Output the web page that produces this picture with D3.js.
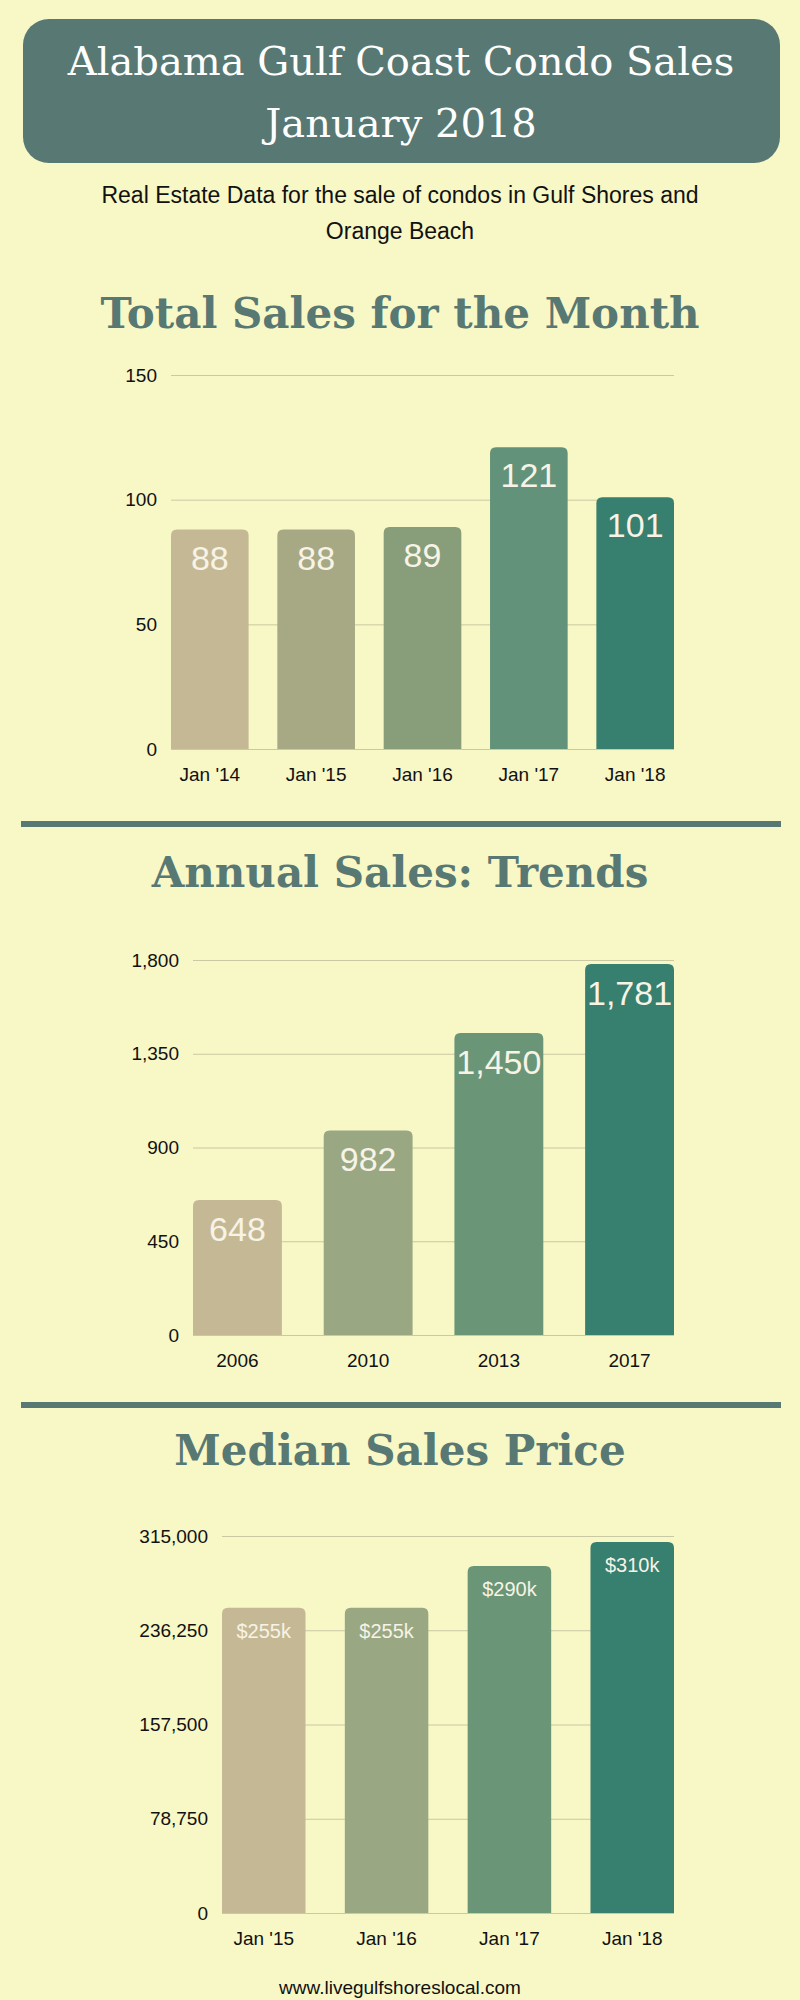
<!DOCTYPE html><html><head><meta charset="utf-8">
<script src="https://cdn.jsdelivr.net/npm/d3@7"></script>
<style>body{margin:0;background:#f8f7c6}svg{display:block}</style></head><body>
<svg id="c" width="800" height="2000"></svg>
<script>
const monthCats=["Jan '14","Jan '15","Jan '16","Jan '17","Jan '18"];
const monthVals=[88,88,89,121,101];
const monthTicks=[0,50,100,150];
const yearCats=["2006","2010","2013","2017"];
const yearVals=[648,982,1450,1781];
const yearTicks=[0,450,900,1350,1800];
const priceCats=["Jan '15","Jan '16","Jan '17","Jan '18"];
const priceVals=[255000,255000,290000,310000];
const priceLabels=["$255k","$255k","$290k","$310k"];
const priceTicks=[0,78750,157500,236250,315000];
const col5=["#c5b995","#a7a985","#889d79","#62937a","#377f6f"];
const col4=["#c5b995","#99a882","#6a9677","#377f6f"];

const svg=d3.select("#c");
const teal="#587873";
svg.append("rect").attr("width",800).attr("height",2000).attr("fill","#f8f7c6");
svg.append("rect").attr("x",23).attr("y",19).attr("width",757).attr("height",144).attr("rx",26).attr("fill",teal);
const serif="'DejaVu Serif', serif";
[["Alabama Gulf Coast Condo Sales",75],["January 2018",137]].forEach(([t,y])=>
 svg.append("text").attr("x",401).attr("y",y).attr("text-anchor","middle").attr("fill","#fff").attr("font-family",serif).attr("font-size",40).text(t));
[["Real Estate Data for the sale of condos in Gulf Shores and",203],["Orange Beach",239]].forEach(([t,y])=>
 svg.append("text").attr("x",400).attr("y",y).attr("text-anchor","middle").attr("fill","#111").attr("font-family","'Liberation Sans',Arial").attr("font-size",23).text(t));
[["Total Sales for the Month",328],["Annual Sales: Trends",887],["Median Sales Price",1465]].forEach(([t,y])=>
 svg.append("text").attr("x",400).attr("y",y).attr("text-anchor","middle").attr("fill",teal).attr("font-family",serif).attr("font-size",42).attr("font-weight","bold").text(t));
[824,1405].forEach(y=>svg.append("rect").attr("x",21).attr("y",y-3).attr("width",760).attr("height",6).attr("fill",teal));
svg.append("text").attr("x",400).attr("y",1994).attr("text-anchor","middle").attr("fill","#111").attr("font-family","'Liberation Sans',Arial").attr("font-size",19).text("www.livegulfshoreslocal.com");

function chart(o){
 const x=d3.scaleBand().domain(o.cats).range([o.x0,o.x1]).paddingInner(o.pad).paddingOuter(0);
 const y=d3.scaleLinear().domain([0,o.max]).range([o.yb,o.yt]);
 const g=svg.append("g");
 const ax=g.append("g").attr("transform",`translate(${o.x0},0)`).call(d3.axisLeft(y).tickValues(o.ticks).tickSize(-(o.x1-o.x0)).tickFormat(d3.format(",")));
 ax.select(".domain").remove();
 ax.selectAll("line").attr("stroke","#c9c9a3");
 ax.selectAll("text").attr("font-family","'Liberation Sans',Arial").attr("font-size",19).attr("fill","#111").attr("x",-14);
 const r=6;
 g.selectAll("path.b").data(o.vals).join("path").attr("fill",(d,i)=>o.cols[i]).attr("d",(d,i)=>{
  const x0=x(o.cats[i]),w=x.bandwidth(),yt=y(d),yb=y(0);
  return `M${x0},${yb}V${yt+r}Q${x0},${yt} ${x0+r},${yt}H${x0+w-r}Q${x0+w},${yt} ${x0+w},${yt+r}V${yb}Z`;});
 g.selectAll("text.v").data(o.vals).join("text").attr("x",(d,i)=>x(o.cats[i])+x.bandwidth()/2).attr("y",d=>y(d)+o.loff)
  .attr("text-anchor","middle").attr("fill","#f7f3e6").attr("font-family","'Liberation Sans',Arial").attr("font-size",o.lfs).text((d,i)=>o.labels?o.labels[i]:d3.format(",")(d));
 g.selectAll("text.c").data(o.cats).join("text").attr("x",d=>x(d)+x.bandwidth()/2).attr("y",o.yb+32).attr("text-anchor","middle")
  .attr("fill","#111").attr("font-family","'Liberation Sans',Arial").attr("font-size",19).text(d=>d);
}
chart({cats:monthCats,vals:monthVals,ticks:monthTicks,max:150,x0:171,x1:674,yt:375,yb:749,pad:0.27,cols:col5,lfs:34,loff:40});
chart({cats:yearCats,vals:yearVals,ticks:yearTicks,max:1800,x0:193,x1:674,yt:960,yb:1335,pad:0.32,cols:col4,lfs:34,loff:41});
chart({cats:priceCats,vals:priceVals,ticks:priceTicks,max:315000,labels:priceLabels,x0:222,x1:674,yt:1536,yb:1913,pad:0.32,cols:col4,lfs:20,loff:30});
</script></body></html>
